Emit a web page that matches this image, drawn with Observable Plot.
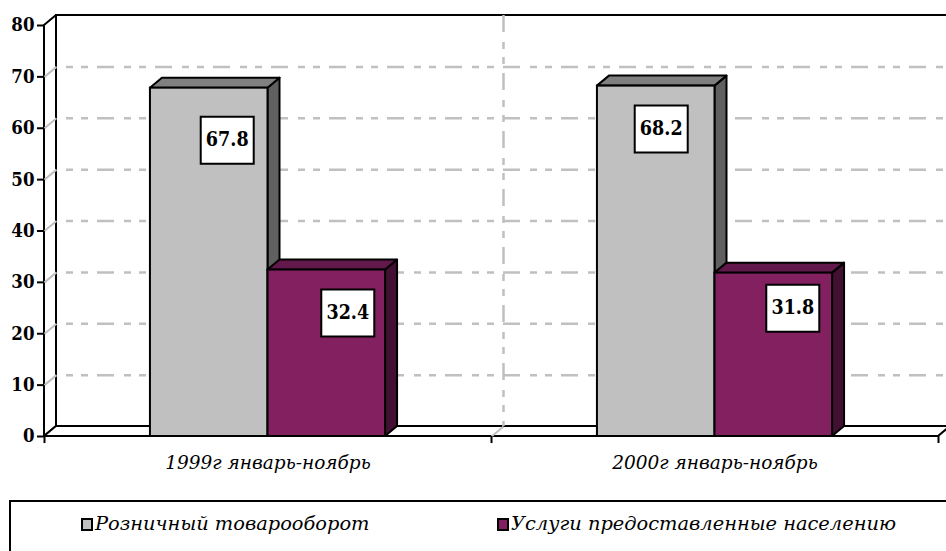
<!DOCTYPE html>
<html><head><meta charset="utf-8">
<script src="https://cdn.jsdelivr.net/npm/d3@7"></script>
<script src="https://cdn.jsdelivr.net/npm/@observablehq/plot@0.6"></script>
<style>
html,body{margin:0;padding:0;background:#fff;overflow:hidden;width:946px;height:551px}
#chart{position:absolute;left:0;top:0}
#chart svg [aria-label^="y-axis"] line,#chart svg [aria-label^="y-axis"] path{stroke-width:2px;stroke:#000}
#legend{position:absolute;left:9px;top:500px;width:980px;height:90px;border:2px solid #000;box-sizing:border-box;
  font-family:"DejaVu Serif",serif;font-style:italic;font-size:19.4px;color:#000}
.sw{position:absolute;top:16px;width:8px;height:9px;border:2px solid #000}
.lt{position:absolute;top:11px;line-height:22px;white-space:nowrap}
</style></head><body>
<div id="chart"></div>
<div id="legend"></div>
<script>
// ---- data ----
const categories = ["1999г январь-ноябрь", "2000г январь-ноябрь"];
const seriesNames = ["Розничный товарооборот", "Услуги предоставленные населению"];
const retailValues = [67.8, 68.2];
const servicesValues = [32.4, 31.8];
const yTicks = [0, 10, 20, 30, 40, 50, 60, 70, 80];

// ---- layout / style ----
const W = 946, H = 490, ML = 44, MR = 8, MT = 25, MB = 54;
const pxX = 2 / (W - ML - MR), pxY = 80 / (H - MT - MB);
const DX = 12 * pxX, DY = 10 * pxY;          // 3-D depth offset
const GAP = 0.237, BW = 0.263;
const palette = [
  {front: "#c0c0c0", top: "#808080", side: "#606060"},
  {front: "#832060", top: "#62184a", side: "#421033"}
];
const labelNudge = [[18, 52], [21, 43], [5, 43], [19, 35]];
const frame = {stroke: "#000", strokeWidth: 2};
const gridStyle = {stroke: "#c0c0c0", strokeWidth: 2.5, strokeDasharray: "17,10,7,8,7,9"};
const boldCond = "'DejaVu Serif Condensed','DejaVu Serif',serif";

const seriesValues = [retailValues, servicesValues];
const bars = [];
categories.forEach((c, i) => seriesValues.forEach((vals, j) =>
  bars.push({category: c, series: seriesNames[j], i, j, value: vals[i]})));
const xl = b => b.i + GAP + b.j * BW;
const xr = b => b.i + GAP + (b.j + 1) * BW;

const marks = [
  // back wall
  Plot.rect([0], {x1: DX, x2: 2 + DX + 0.05, y1: DY, y2: 80 + DY, fill: "#fff", ...frame}),
  // left wall
  Plot.areaY([{x: 0, y1: 0, y2: 80}, {x: DX, y1: DY, y2: 80 + DY}], {x: "x", y1: "y1", y2: "y2", fill: "#fff", ...frame}),
  // floor
  Plot.areaX([{y: 0, x1: 0, x2: 2}, {y: DY, x1: DX, x2: 2 + DX}], {y: "y", x1: "x1", x2: "x2", fill: "#fff", ...frame}),
  // gridlines
  Plot.ruleY(yTicks.filter(v => v > 0 && v < 80), {y: v => v + DY, x1: DX, x2: 2 + DX + 0.05, ...gridStyle, strokeDashoffset: 17}),
  Plot.link(yTicks.filter(v => v > 0 && v < 80), {x1: 0, y1: v => v, x2: DX, y2: v => v + DY, stroke: "#c0c0c0", strokeWidth: 2}),
  Plot.ruleX([1 + DX], {x: d => d, y1: 80 + DY, y2: DY, ...gridStyle, strokeDashoffset: 0}),
  Plot.link([1], {x1: d => d, y1: 0, x2: d => d + DX, y2: DY, stroke: "#c0c0c0", strokeWidth: 2}),
  // x ticks
  Plot.ruleX([0, 1, 2], {x: d => d, y1: 0, y2: -7 * pxY, stroke: "#000", strokeWidth: 2}),
  // y tick labels
  Plot.text(yTicks, {x: 0, y: d => d, dx: -10, textAnchor: "end", text: d => String(d), fontFamily: boldCond, fontWeight: "bold", fontSize: 18.5}),
  // category labels
  Plot.text(categories, {x: (d, i) => i + 0.5, y: 0, dy: 27, text: d => d, fontFamily: "'DejaVu Serif',serif", fontStyle: "italic", fontWeight: "normal", fontSize: 18.5})
];

[0, 1].forEach(j => {
  const data = bars.filter(b => b.j === j);
  const c = palette[j];
  marks.push(
    Plot.areaY(data.flatMap(b => [{k: b.i, x: xr(b), y1: 0, y2: b.value}, {k: b.i, x: xr(b) + DX, y1: DY, y2: b.value + DY}]),
      {x: "x", y1: "y1", y2: "y2", z: "k", fill: c.side, ...frame}),
    Plot.areaX(data.flatMap(b => [{k: b.i, y: b.value, x1: xl(b), x2: xr(b)}, {k: b.i, y: b.value + DY, x1: xl(b) + DX, x2: xr(b) + DX}]),
      {y: "y", x1: "x1", x2: "x2", z: "k", fill: c.top, ...frame}),
    Plot.rect(data, {x1: xl, x2: xr, y1: 0, y2: "value", fill: c.front, ...frame})
  );
});

const boxSymbol = {draw(ctx) { ctx.rect(-26.5, -23.5, 53, 47); }};
bars.forEach((b, k) => {
  const [dx, dy] = labelNudge[k];
  const cx = d => (xl(d) + xr(d)) / 2;
  marks.push(
    Plot.dot([b], {x: cx, y: "value", dx, dy, r: 5, symbol: boxSymbol, fill: "#fff", stroke: "#000", strokeWidth: 2}),
    Plot.text([b], {x: cx, y: "value", dx, dy, text: d => d.value.toFixed(1), fontFamily: boldCond, fontWeight: "bold", fontSize: 19.5})
  );
});

const chart = Plot.plot({
  width: W, height: H,
  marginLeft: ML, marginRight: MR, marginTop: MT, marginBottom: MB,
  x: {domain: [0, 2], axis: null},
  y: {domain: [0, 80], ticks: yTicks, tickSize: 7, tickFormat: () => "", label: null},
  style: {fontFamily: "'DejaVu Serif',serif", fontWeight: "bold", fontSize: "17px", background: "#fff", color: "#000", overflow: "hidden"},
  marks
});
document.getElementById("chart").appendChild(chart);

// legend
const legend = document.getElementById("legend");
const legendPos = [70, 486];
seriesNames.forEach((name, j) => {
  const sw = document.createElement("div");
  sw.className = "sw";
  sw.style.left = legendPos[j] + "px";
  sw.style.background = palette[j].front;
  const t = document.createElement("div");
  t.className = "lt";
  t.style.left = (legendPos[j] + 14) + "px";
  t.textContent = name;
  legend.append(sw, t);
});
</script>
</body></html>
